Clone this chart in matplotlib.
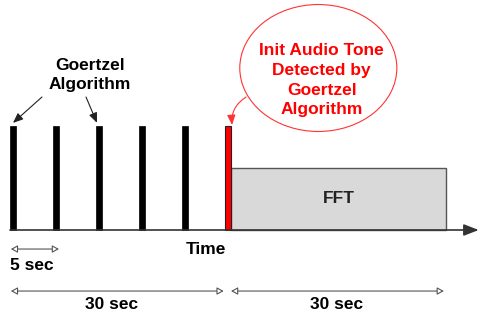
import matplotlib.pyplot as plt
from matplotlib.patches import Rectangle, Ellipse, FancyArrowPatch

plt.rcParams['font.family'] = ['Liberation Sans', 'DejaVu Sans']

# Goertzel checks every 5 sec, tone found at the 6th check, then FFT for 30 sec
pulse_times = [0, 5, 10, 15, 20]
detect_time = 25
fft_duration = 25
pulse_height = 1.0
fft_height = 0.6
pulse_w = 0.7
fs = 12.5

fig = plt.figure(figsize=(4.8, 3.11), dpi=100)
ax = fig.add_axes([0, 0, 1, 1])
ax.set_xlim(-1.51, 54.3)
ax.set_ylim(-0.779, 2.212)
ax.axis('off')

# pulses
for t in pulse_times:
    ax.add_patch(Rectangle((t - pulse_w / 2, 0), pulse_w, pulse_height,
                           fc='black', ec='black', lw=0.5, zorder=3))
ax.add_patch(Rectangle((detect_time - pulse_w / 2, 0), pulse_w, pulse_height,
                       fc='#ff0000', ec='#222222', lw=0.8, zorder=3))

# FFT block
fft_start = detect_time + pulse_w / 2
ax.add_patch(Rectangle((fft_start, 0), fft_duration, fft_height,
                       fc='#d9d9d9', ec='#555555', lw=1, zorder=2))
ax.text(fft_start + fft_duration / 2, fft_height / 2, 'FFT', ha='center', va='center',
        fontsize=fs, fontweight='bold', color='#222222')

# time axis
ax.annotate('', xy=(54.15, 0), xytext=(-0.35, 0),
            arrowprops=dict(arrowstyle='-|>,head_length=0.9,head_width=0.35',
                            color='#333333', lw=1.2, shrinkA=0, shrinkB=0), zorder=4)
ax.text(22.4, -0.19, 'Time', ha='center', va='center', fontsize=fs, fontweight='bold')

# dimension arrows
def dim(x0, x1, y):
    ax.add_patch(FancyArrowPatch((x0, y), (x1, y),
                                 arrowstyle='<|-|>,head_length=4,head_width=2.2',
                                 fc='white', ec='#555555', lw=0.8,
                                 shrinkA=0, shrinkB=0, mutation_scale=1))

dim(-0.25, 5.35, -0.183)
ax.text(-0.4, -0.337, '5 sec', ha='left', va='center', fontsize=fs, fontweight='bold')
dim(-0.25, 24.5, -0.587)
ax.text(11.5, -0.72, '30 sec', ha='center', va='center', fontsize=fs, fontweight='bold')
dim(25.35, 50.1, -0.587)
ax.text(37.6, -0.72, '30 sec', ha='center', va='center', fontsize=fs, fontweight='bold')

# Goertzel label
ax.text(8.95, 1.49, 'Goertzel\nAlgorithm', ha='center', va='center',
        fontsize=fs, fontweight='bold', linespacing=1.4)
for tip in [(0.0, 1.03), (9.77, 1.03)]:
    start = (3.37, 1.279) if tip[0] == 0 else (8.49, 1.279)
    ax.annotate('', xy=tip, xytext=start,
                arrowprops=dict(arrowstyle='-|>,head_length=0.6,head_width=0.25',
                                color='#222222', lw=0.8, shrinkA=0, shrinkB=0))

# callout bubble
ax.add_patch(Ellipse((35.5, 1.558), 18.26, 1.221, fc='white', ec='#ff3333', lw=0.8))
ax.text(35.9, 1.44, 'Init Audio Tone\nDetected by\nGoertzel\nAlgorithm', ha='center',
        va='center', fontsize=fs, fontweight='bold', color='#ff0000', linespacing=1.4)
ax.annotate('', xy=(25.47, 1.01), xytext=(27.1, 1.279),
            arrowprops=dict(arrowstyle='-|>,head_length=0.6,head_width=0.25',
                            color='#ff3333', lw=0.8, shrinkA=0, shrinkB=0,
                            connectionstyle='arc3,rad=0.3'))

fig.savefig('out.png', dpi=100)
